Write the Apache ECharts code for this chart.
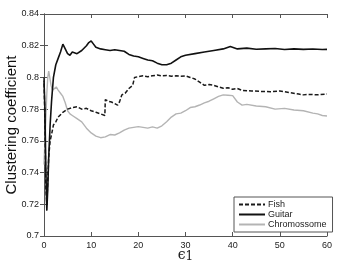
<!DOCTYPE html>
<html>
<head>
<meta charset="utf-8">
<script src="https://cdn.jsdelivr.net/npm/echarts@6/dist/echarts.min.js"></script>
<style>
  html, body { margin: 0; padding: 0; background: #fff; }
  #chart { width: 338px; height: 263px; }
</style>
</head>
<body>
<div id="chart"></div>
<script>
// values
const guitarX = [0, 0.2, 0.4, 0.6, 0.8, 1.0, 1.3, 1.6, 2.0, 2.5, 3.0, 3.5, 4.0, 4.5, 5.0, 5.5, 6.0, 7, 8, 9, 9.5, 10, 10.5, 11, 12, 13, 14, 15, 16, 17, 18, 19, 20, 21, 22, 23, 24, 25, 26, 27, 28, 29, 30, 32, 34, 36, 38, 39.5, 41, 43, 45, 47, 49, 51, 53, 55, 57, 59, 60]
const guitarY = [0.798, 0.78, 0.74, 0.716, 0.73, 0.75, 0.77, 0.785, 0.80, 0.808, 0.812, 0.816, 0.821, 0.818, 0.815, 0.814, 0.816, 0.815, 0.817, 0.820, 0.822, 0.823, 0.821, 0.819, 0.818, 0.8175, 0.817, 0.8175, 0.817, 0.8165, 0.8145, 0.8135, 0.813, 0.812, 0.811, 0.8105, 0.809, 0.808, 0.808, 0.809, 0.811, 0.813, 0.814, 0.815, 0.816, 0.817, 0.818, 0.8195, 0.818, 0.8185, 0.8178, 0.818, 0.8182, 0.8176, 0.818, 0.8177, 0.8179, 0.8176, 0.8177]

const fishX = [0, 0.2, 0.4, 0.6, 0.8, 1.0, 1.3, 1.6, 2.0, 2.5, 3, 4, 5, 6, 7, 8, 9, 10, 11, 12, 12.9, 13.0, 13.6, 14.3, 15, 15.6, 16, 16.5, 17.2, 18, 18.8, 19.2, 20, 21, 22, 23, 24, 25, 26, 27, 28, 29, 30, 31, 32, 33, 34, 35, 36, 37, 38, 39, 40, 41, 42, 44, 46, 48, 50, 52, 54, 55, 56, 58, 60]
const fishY = [0.80, 0.77, 0.73, 0.72, 0.735, 0.75, 0.76, 0.764, 0.77, 0.772, 0.775, 0.778, 0.780, 0.781, 0.7815, 0.780, 0.7805, 0.779, 0.778, 0.777, 0.776, 0.786, 0.785, 0.7845, 0.7835, 0.7825, 0.7845, 0.789, 0.790, 0.793, 0.795, 0.800, 0.8005, 0.801, 0.8005, 0.801, 0.8015, 0.801, 0.8012, 0.8008, 0.801, 0.8008, 0.801, 0.8, 0.799, 0.797, 0.795, 0.7955, 0.795, 0.794, 0.7932, 0.7935, 0.7925, 0.793, 0.7918, 0.7915, 0.7912, 0.791, 0.7915, 0.7905, 0.7895, 0.789, 0.7893, 0.789, 0.7895]

const chromX = [0, 0.2, 0.4, 0.6, 0.8, 1.0, 1.2, 1.5, 1.8, 2.2, 2.6, 3.0, 3.5, 4, 4.5, 5, 5.5, 6, 7, 8, 9, 10, 11, 12, 13, 14, 15, 16, 17, 18, 19, 20, 21, 22, 23, 24, 25, 26, 27, 28, 29, 30, 31, 32, 33, 34, 35, 36, 37, 38, 39, 40, 41, 42, 43, 45, 47, 49, 51, 53, 55, 57, 58, 59, 60]
const chromY = [0.745, 0.76, 0.775, 0.79, 0.80, 0.804, 0.803, 0.795, 0.792, 0.7925, 0.794, 0.792, 0.79, 0.788, 0.784, 0.779, 0.777, 0.776, 0.774, 0.772, 0.768, 0.765, 0.763, 0.762, 0.7625, 0.764, 0.7637, 0.765, 0.7668, 0.768, 0.7685, 0.769, 0.7685, 0.768, 0.7688, 0.768, 0.7695, 0.772, 0.775, 0.777, 0.7775, 0.779, 0.781, 0.7815, 0.7826, 0.784, 0.785, 0.7865, 0.788, 0.789, 0.7888, 0.7885, 0.7845, 0.7825, 0.783, 0.782, 0.7815, 0.780, 0.7805, 0.7795, 0.779, 0.7775, 0.777, 0.776, 0.7757]

const zip = (xs, ys) => xs.map((x, i) => [x, ys[i]])

const chart = echarts.init(document.getElementById('chart'))

const axisCommon = {
  axisLine: { show: true, lineStyle: { color: '#555', width: 1 } },
  axisTick: { show: true, inside: true, length: 4, lineStyle: { color: '#555' } },
  splitLine: { show: false },
}

chart.setOption({
  animation: false,
  grid: { left: 44, right: 11, top: 14, bottom: 27, outerBoundsMode: 'none' },
  legend: {
    orient: 'vertical',
    left: 234, top: 197,
    width: 93,
    padding: [3, 6, 3, 4],
    itemGap: 1,
    itemWidth: 26, itemHeight: 11,
    backgroundColor: '#fff',
    borderColor: '#555', borderWidth: 1,
    itemStyle: { opacity: 0 },
    textStyle: { fontFamily: 'Arial, Liberation Sans', fontSize: 9, color: '#222', padding: [0, 0, 0, -2] },
    data: ['Fish', 'Guitar', 'Chromossome'],
  },
  xAxis: [
    {
      ...axisCommon,
      type: 'value', min: 0, max: 60, interval: 10,
      axisLabel: { fontFamily: 'Arial, Liberation Sans', fontSize: 9, color: '#222', margin: 5 },
      name: '{e|ϵ}{s|1}', nameLocation: 'middle', nameGap: 11, nameMoveOverlap: false,
      nameTextStyle: {
        rich: {
          e: { fontFamily: 'DejaVu Serif', fontSize: 14, color: '#222' },
          s: { fontFamily: 'DejaVu Serif', fontSize: 12, color: '#222', padding: [4, 0, 0, 0] },
        },
      },
    },
    { ...axisCommon, type: 'value', position: 'top', min: 0, max: 60, interval: 10, axisLabel: { show: false } },
  ],
  yAxis: [
    {
      ...axisCommon,
      type: 'value', min: 0.7, max: 0.84, interval: 0.02,
      axisLabel: { fontFamily: 'Arial, Liberation Sans', fontSize: 9, color: '#222', margin: 5 },
      name: 'Clustering coefficient', nameLocation: 'middle', nameGap: 25, nameMoveOverlap: false,
      nameTextStyle: { fontFamily: 'Arial, Liberation Sans', fontSize: 15, color: '#111' },
    },
    { ...axisCommon, type: 'value', position: 'right', min: 0.7, max: 0.84, interval: 0.02, axisLabel: { show: false } },
  ],
  series: [
    {
      name: 'Fish', type: 'line', symbol: 'none', z: 3,
      data: zip(fishX, fishY),
      lineStyle: { color: '#1a1a1a', width: 1.5, type: [4, 2] },
      itemStyle: { color: '#1a1a1a' },
    },
    {
      name: 'Guitar', type: 'line', symbol: 'none', z: 4,
      data: zip(guitarX, guitarY),
      lineStyle: { color: '#111', width: 1.6 },
      itemStyle: { color: '#111' },
    },
    {
      name: 'Chromossome', type: 'line', symbol: 'none', z: 2,
      data: zip(chromX, chromY),
      lineStyle: { color: '#b4b4b4', width: 1.4 },
      itemStyle: { color: '#b4b4b4' },
    },
  ],
})
</script>
</body>
</html>
